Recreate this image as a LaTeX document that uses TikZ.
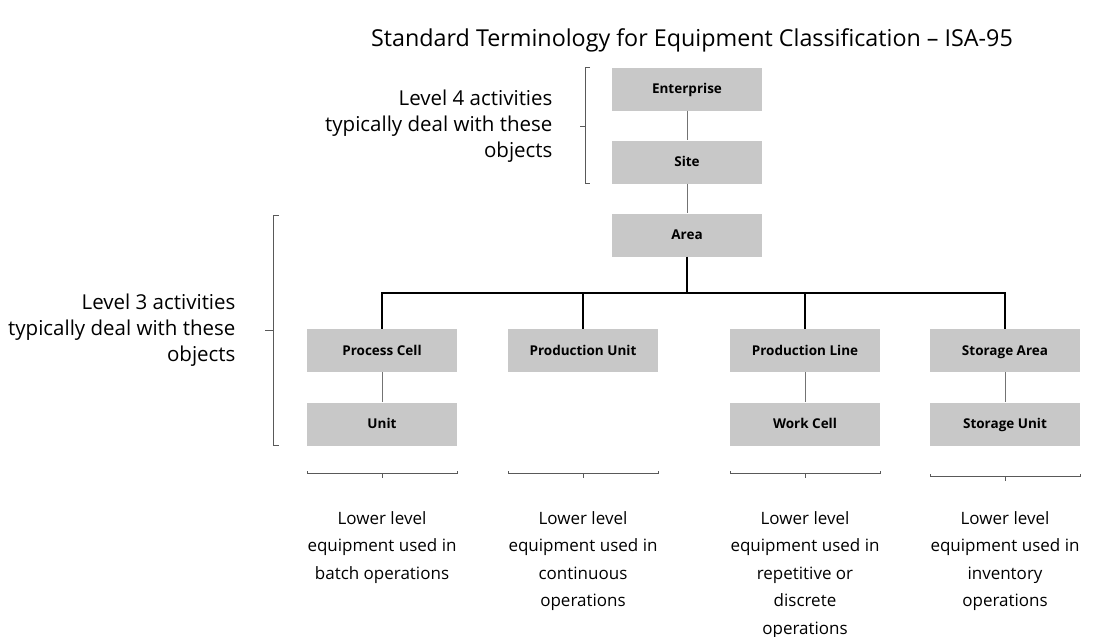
\documentclass[tikz,border=0pt]{standalone}
\usepackage{fontspec}
\setmainfont{Open Sans}
\begin{document}
\begin{tikzpicture}[x=1pt,y=-1pt,
  box/.style={fill=boxgray,minimum width=150pt,minimum height=43pt,inner sep=0pt,text height=9.6pt,text depth=0pt,font=\fontsize{13.5}{15}\selectfont\bfseries},
  tree/.style={draw=black,line width=1.4pt},
  sub/.style={draw=gray!90!black,line width=1pt},
  brk/.style={draw=black!65,line width=0.9pt},
  note/.style={font=\fontsize{17}{27.5}\selectfont,align=center,anchor=north},
  side/.style={font=\fontsize{20.5}{26}\selectfont,align=right,anchor=east}]
\definecolor{boxgray}{HTML}{C8C8C8}
\useasboundingbox (0,0) rectangle (1098,637);
\node[font=\fontsize{23.3}{26}\selectfont] (title) at (692,40) {Standard Terminology for Equipment Classification – ISA-95};
% boxes
\node[box] (ent) at (687,89) {Enterprise};
\node[box] (site) at (687,162) {Site};
\node[box] (area) at (687,235) {Area};
\node[box] (pc) at (382,350.5) {Process Cell};
\node[box] (unit) at (382,424) {Unit};
\node[box] (pu) at (583,350.5) {Production Unit};
\node[box] (pl) at (805,350.5) {Production Line};
\node[box] (wc) at (805,424) {Work Cell};
\node[box] (sa) at (1005,350.5) {Storage Area};
\node[box] (su) at (1005,424) {Storage Unit};
% connectors
\coordinate (bus) at (687,293);
\draw[sub] (ent) -- (site);
\draw[sub] (site) -- (area);
\draw[tree] (area) -- (bus);
\draw[tree] (pc.north) |- (bus) -| (sa.north);
\draw[tree] (pu.north) -- (pu.north |- bus);
\draw[tree] (pl.north) -- (pl.north |- bus);
\draw[sub] (pc) -- (unit);
\draw[sub] (pl) -- (wc);
\draw[sub] (sa) -- (su);
% level brackets
\draw[brk] (590,67) -- (585,67) -- (585,183) -- (590,183);
\draw[brk] (585,126) -- (580,126);
\draw[brk] (279,215) -- (273,215) -- (273,445) -- (279,445);
\draw[brk] (273,330) -- (265,330);
\node[side] (l4) at (556,126) {Level 4 activities\\typically deal with these\\objects};
\node[side] (l3) at (239,330) {Level 3 activities\\typically deal with these\\objects};
% bottom brackets
\foreach \c/\y in {382/473,583/473,805/473,1005/476}{
  \draw[brk] (\c-75,\y-2) -- (\c-75,\y) -- (\c+75,\y) -- (\c+75,\y-2);
  \draw[brk] (\c,\y) -- (\c,\y+5);
}
\node[note] (n1) at (382,508) {Lower level\\equipment used in\\batch operations};
\node[note] (n2) at (583,508) {Lower level\\equipment used in\\continuous\\operations};
\node[note] (n3) at (805,508) {Lower level\\equipment used in\\repetitive or\\discrete\\operations};
\node[note] (n4) at (1005,508) {Lower level\\equipment used in\\inventory\\operations};
\end{tikzpicture}
\end{document}
